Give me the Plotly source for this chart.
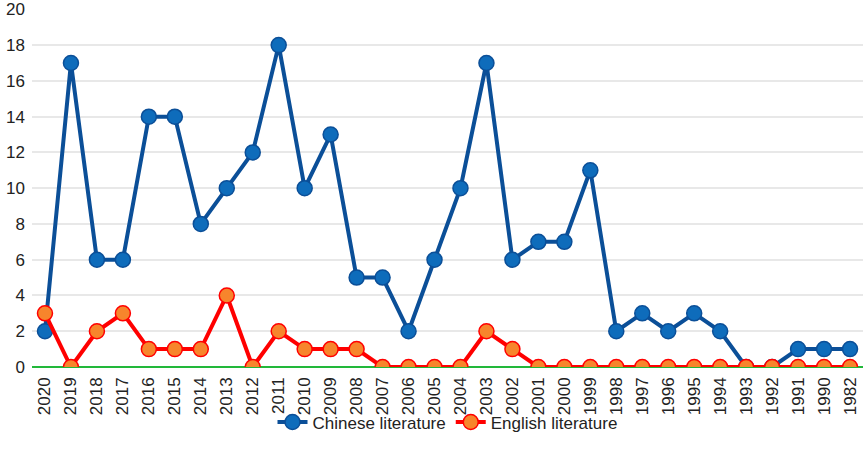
import plotly.graph_objects as go

years = ['2020', '2019', '2018', '2017', '2016', '2015', '2014', '2013', '2012', '2011',
         '2010', '2009', '2008', '2007', '2006', '2005', '2004', '2003', '2002', '2001',
         '2000', '1999', '1998', '1997', '1996', '1995', '1994', '1993', '1992', '1991',
         '1990', '1982']
chinese = [2, 17, 6, 6, 14, 14, 8, 10, 12, 18, 10, 13, 5, 5, 2, 6, 10, 17, 6, 7,
           7, 11, 2, 3, 2, 3, 2, 0, 0, 1, 1, 1]
english = [3, 0, 2, 3, 1, 1, 1, 4, 0, 2, 1, 1, 1, 0, 0, 0, 0, 2, 1, 0,
           0, 0, 0, 0, 0, 0, 0, 0, 0, 0, 0, 0]
y_ticks = [0, 2, 4, 6, 8, 10, 12, 14, 16, 18, 20]

fig = go.Figure()

fig.add_trace(go.Scatter(
    x=years, y=chinese,
    name='Chinese literature',
    mode='lines+markers',
    line=dict(color='#0b4f98', width=4),
    marker=dict(size=15, color='#0e6cbb', line=dict(color='#0b4f98', width=1.5))
))

fig.add_trace(go.Scatter(
    x=years, y=english,
    name='English literature',
    mode='lines+markers',
    line=dict(color='#ff0000', width=4),
    marker=dict(size=15, color='#f7852c', line=dict(color='#ff0000', width=1.5))
))

fig.update_layout(
    width=865,
    height=462,
    margin=dict(l=32, r=2, t=9, b=95, autoexpand=False),
    plot_bgcolor='white',
    paper_bgcolor='white',
    font=dict(family='Liberation Sans, Arial, sans-serif', size=16, color='#222222'),
    legend=dict(
        orientation='h',
        xanchor='center',
        x=0.5,
        yanchor='middle',
        y=-0.155,
        bgcolor='rgba(0,0,0,0)',
        font=dict(size=17)
    )
)

fig.update_xaxes(
    type='category',
    tickangle=-90,
    tickfont=dict(size=17),
    showgrid=False,
    showline=False,
    ticks='',
    ticklabelstandoff=6,
    automargin=False,
    range=[-0.5, len(years) - 0.5]
)
fig.update_yaxes(
    range=[0, 20.02],
    tickvals=y_ticks,
    tickfont=dict(size=17),
    ticklabeloverflow='allow',
    showgrid=True,
    gridcolor='#e8e8e8',
    gridwidth=1.5,
    zeroline=True,
    zerolinecolor='#22b83a',
    zerolinewidth=2,
    ticks='',
    automargin=False,
    ticklabelstandoff=6
)

# the page's default body margin shifts the figure by 8px, drop it
fig.write_html("out.html", config={'displayModeBar': False},
               post_script="document.body.style.margin = '0';")
